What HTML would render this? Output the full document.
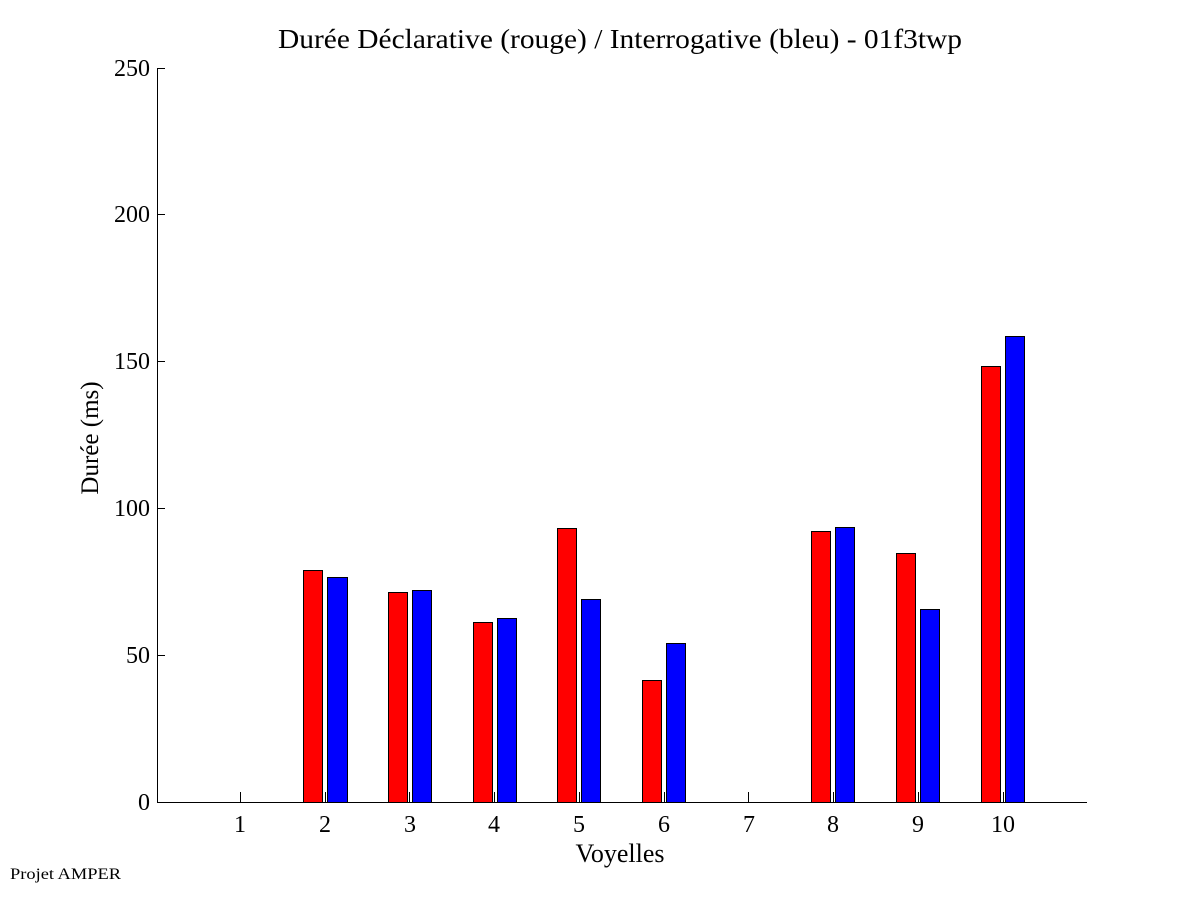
<!DOCTYPE html>
<html><head><meta charset="utf-8"><style>body{margin:0;background:#fff}svg{display:block}text{font-family:"Liberation Serif",serif;fill:#000}</style></head><body>
<svg width="1201" height="901" viewBox="0 0 1201 901" xmlns="http://www.w3.org/2000/svg">
<rect width="1201" height="901" fill="#fff"/>
<text x="278" y="48" font-size="27" textLength="684" lengthAdjust="spacingAndGlyphs">Durée Déclarative (rouge) / Interrogative (bleu) - 01f3twp</text>
<g stroke="#000" stroke-width="1">
<line x1="157.5" y1="68" x2="157.5" y2="802"/>
<line x1="157" y1="802.5" x2="1087" y2="802.5"/>
<line x1="157" y1="655.5" x2="165" y2="655.5"/>
<line x1="157" y1="508.5" x2="165" y2="508.5"/>
<line x1="157" y1="361.5" x2="165" y2="361.5"/>
<line x1="157" y1="214.5" x2="165" y2="214.5"/>
<line x1="157" y1="68.5" x2="165" y2="68.5"/>
</g>
<g font-size="24" text-anchor="end">
<text x="150" y="810">0</text><text x="150" y="663">50</text><text x="150" y="516">100</text><text x="150" y="369">150</text><text x="150" y="222">200</text><text x="150" y="76">250</text>
</g>
<g stroke="#000" stroke-width="1">
<rect x="303.5" y="570.5" width="19" height="232" fill="#f00"/><rect x="327.5" y="577.5" width="20" height="225" fill="#00f"/>
<rect x="388.5" y="592.5" width="19" height="210" fill="#f00"/><rect x="412.5" y="590.5" width="19" height="212" fill="#00f"/>
<rect x="473.5" y="622.5" width="19" height="180" fill="#f00"/><rect x="497.5" y="618.5" width="19" height="184" fill="#00f"/>
<rect x="557.5" y="528.5" width="19" height="274" fill="#f00"/><rect x="581.5" y="599.5" width="19" height="203" fill="#00f"/>
<rect x="642.5" y="680.5" width="19" height="122" fill="#f00"/><rect x="666.5" y="643.5" width="19" height="159" fill="#00f"/>
<rect x="811.5" y="531.5" width="19" height="271" fill="#f00"/><rect x="835.5" y="527.5" width="19" height="275" fill="#00f"/>
<rect x="896.5" y="553.5" width="19" height="249" fill="#f00"/><rect x="920.5" y="609.5" width="19" height="193" fill="#00f"/>
<rect x="981.5" y="366.5" width="19" height="436" fill="#f00"/><rect x="1005.5" y="336.5" width="19" height="466" fill="#00f"/>
</g>
<g stroke="#000" stroke-width="1">
<line x1="240.5" y1="792" x2="240.5" y2="802"/><line x1="325.5" y1="792" x2="325.5" y2="802"/><line x1="409.5" y1="792" x2="409.5" y2="802"/><line x1="494.5" y1="792" x2="494.5" y2="802"/><line x1="579.5" y1="792" x2="579.5" y2="802"/><line x1="664.5" y1="792" x2="664.5" y2="802"/><line x1="748.5" y1="792" x2="748.5" y2="802"/><line x1="833.5" y1="792" x2="833.5" y2="802"/><line x1="918.5" y1="792" x2="918.5" y2="802"/><line x1="1003.5" y1="792" x2="1003.5" y2="802"/>
</g>
<g font-size="24" text-anchor="middle">
<text x="240" y="832">1</text><text x="325" y="832">2</text><text x="410" y="832">3</text><text x="494" y="832">4</text><text x="579" y="832">5</text><text x="664" y="832">6</text><text x="749" y="832">7</text><text x="833" y="832">8</text><text x="918" y="832">9</text><text x="1003" y="832">10</text>
</g>
<text x="620" y="862" font-size="26" text-anchor="middle">Voyelles</text>
<text transform="translate(98,438) rotate(-90)" font-size="25" text-anchor="middle">Durée (ms)</text>
<text x="10" y="879" font-size="16" textLength="111" lengthAdjust="spacingAndGlyphs">Projet AMPER</text>
</svg>
</body></html>
